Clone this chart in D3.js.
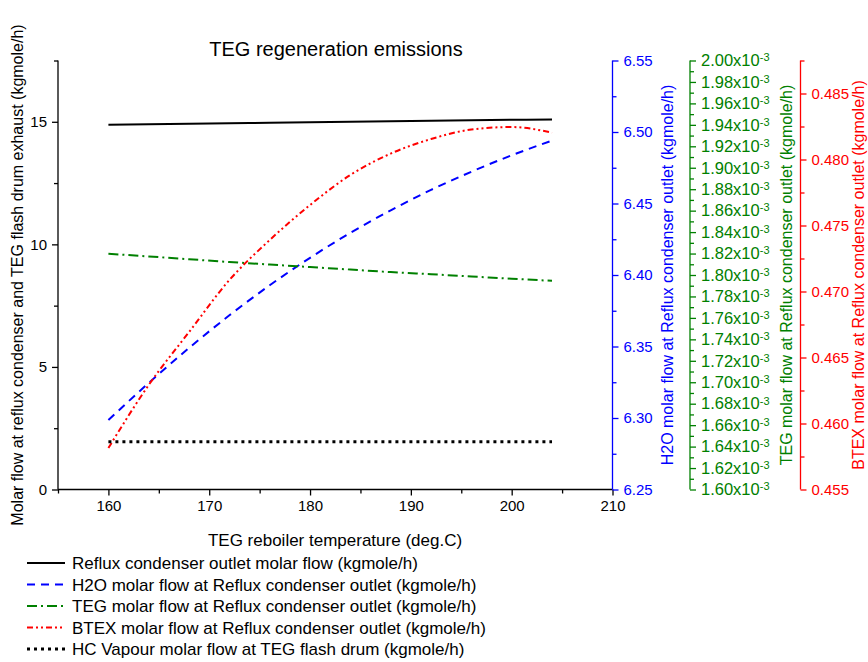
<!DOCTYPE html>
<html>
<head>
<meta charset="utf-8">
<script src="https://cdn.jsdelivr.net/npm/d3@7"></script>
<style>
  body { margin: 0; background: #fff; }
  svg { font-family: "Liberation Sans", Arial, sans-serif; }
</style>
</head>
<body>
<svg id="chart" width="868" height="662"></svg>
<script>
// temperatures (deg.C)
const temps = [160, 164, 168, 172, 176, 180, 184, 188, 192, 196, 200, 204];
// left axis series (kgmole/h)
const refluxFlow = [14.88, 14.90, 14.92, 14.94, 14.96, 14.98, 15.00, 15.02, 15.04, 15.06, 15.08, 15.09];
const hcVapour = [1.95, 1.95, 1.95, 1.95, 1.95, 1.95, 1.95, 1.95, 1.95, 1.95, 1.95, 1.95];
// right axes series
const h2oFlow = [6.2986, 6.3245, 6.3490, 6.3718, 6.3928, 6.4120, 6.4295, 6.4452, 6.4595, 6.4722, 6.4837, 6.4940];
const tegFlow = [1.8198e-3, 1.8173e-3, 1.8147e-3, 1.8121e-3, 1.8097e-3, 1.8074e-3, 1.8051e-3, 1.8027e-3, 1.8007e-3, 1.7986e-3, 1.7965e-3, 1.7946e-3];
const btexFlow = [0.45814, 0.46292, 0.46693, 0.47087, 0.47390, 0.47655, 0.47883, 0.48045, 0.48155, 0.48227, 0.48246, 0.48203];

const legendLabels = [
  "Reflux condenser outlet molar flow (kgmole/h)",
  "H2O molar flow at Reflux condenser outlet (kgmole/h)",
  "TEG molar flow at Reflux condenser outlet (kgmole/h)",
  "BTEX molar flow at Reflux condenser outlet (kgmole/h)",
  "HC Vapour molar flow at TEG flash drum (kgmole/h)"
];

const svg = d3.select('#chart');
const plotTop = 60.5, plotBottom = 489.5, plotLeft = 58, plotRight = 612.5;
const fs = 15;

const x = d3.scaleLinear().domain([155, 210]).range([plotLeft, plotRight]);
const yLeft = d3.scaleLinear().domain([0, 17.5]).range([plotBottom, plotTop]);
const yBlue = d3.scaleLinear().domain([6.25, 6.55]).range([plotBottom, plotTop]);
const yGreen = d3.scaleLinear().domain([1.6e-3, 2.0e-3]).range([plotBottom, plotTop]);
const yRed = d3.scaleLinear().domain([0.455, 0.4875]).range([plotBottom, plotTop]);

// draws one axis: minor ticks first, then majors with labels
function drawAxis(axisFn, scale, pos, majors, minors, color, fmt, size) {
  const g = svg.append('g').attr('transform', pos);
  g.append('g').call(axisFn(scale).tickValues(minors).tickSize(4).tickFormat(''));
  const major = g.append('g').call(axisFn(scale).tickValues(majors).tickSize(6).tickPadding(5).tickFormat(fmt));
  g.selectAll('line').attr('stroke', color).attr('stroke-width', 1.3);
  g.selectAll('path.domain').remove();
  major.selectAll('text').attr('fill', color).attr('font-size', size || fs).attr('font-family', '"Liberation Sans", Arial, sans-serif');
  return {g, major};
}

function axisLine(x1, y1, x2, y2, color) {
  svg.append('line').attr('x1', x1).attr('y1', y1).attr('x2', x2).attr('y2', y2)
    .attr('stroke', color).attr('stroke-width', 1.3);
}

// x axis
drawAxis(d3.axisBottom, x, `translate(0,${plotBottom})`, d3.range(160, 211, 10), d3.range(155, 210, 10), '#000', d3.format('d'));
axisLine(plotLeft, plotBottom, plotRight, plotBottom, '#000');
// left axis
drawAxis(d3.axisLeft, yLeft, `translate(${plotLeft},0)`, [0, 5, 10, 15], [2.5, 7.5, 12.5, 17.5], '#000', d3.format('d'));
axisLine(plotLeft, plotTop, plotLeft, plotBottom, '#000');
// blue axis
drawAxis(d3.axisRight, yBlue, `translate(${plotRight},0)`, d3.range(0, 7).map(i => 6.25 + i * 0.05),
  d3.range(0, 6).map(i => 6.275 + i * 0.05), 'blue', d3.format('.2f'));
axisLine(plotRight, plotTop, plotRight, plotBottom, 'blue');
// green axis
const greenX = 690;
const gAx = drawAxis(d3.axisRight, yGreen, `translate(${greenX},0)`, d3.range(0, 21).map(i => 1.6e-3 + i * 0.02e-3),
  d3.range(0, 20).map(i => 1.61e-3 + i * 0.02e-3), 'green', d => (d * 1000).toFixed(2) + 'x10', 16.5);
gAx.major.selectAll('text').append('tspan').attr('dy', '-0.45em').attr('font-size', 11).text('-3');
axisLine(greenX, plotTop, greenX, plotBottom, 'green');
// red axis
const redX = 800.5;
drawAxis(d3.axisRight, yRed, `translate(${redX},0)`, d3.range(0, 7).map(i => 0.455 + i * 0.005),
  d3.range(0, 7).map(i => 0.4575 + i * 0.005), 'red', d3.format('.3f'));
axisLine(redX, plotTop, redX, plotBottom, 'red');

// series
const series = [
  {vals: refluxFlow, y: yLeft, color: '#000', dash: null, w: 2},
  {vals: h2oFlow, y: yBlue, color: 'blue', dash: '8,6', w: 2},
  {vals: tegFlow, y: yGreen, color: 'green', dash: '10,4,2,4', w: 2},
  {vals: btexFlow, y: yRed, color: 'red', dash: '6,3,2,3,2,3', w: 2},
  {vals: hcVapour, y: yLeft, color: '#000', dash: '3,4', w: 3}
];

series.forEach(s => {
  const line = d3.line().x((d, i) => x(temps[i])).y(d => s.y(d)).curve(d3.curveMonotoneX);
  svg.append('path')
    .attr('d', line(s.vals))
    .attr('fill', 'none')
    .attr('stroke', s.color)
    .attr('stroke-width', s.w)
    .attr('stroke-dasharray', s.dash);
});

// title
svg.append('text').attr('x', 336).attr('y', 56).attr('text-anchor', 'middle')
  .attr('font-size', 20).text('TEG regeneration emissions');

// axis titles
svg.append('text').attr('x', 335).attr('y', 546).attr('text-anchor', 'middle')
  .attr('font-size', 17).text('TEG reboiler temperature (deg.C)');

const axisTitles = [
  {x: 23, text: 'Molar flow at reflux condenser and TEG flash drum exhaust (kgmole/h)', color: '#000'},
  {x: 673, text: 'H2O molar flow at Reflux condenser outlet (kgmole/h)', color: 'blue'},
  {x: 792, text: 'TEG molar flow at Reflux condenser outlet (kgmole/h)', color: 'green'},
  {x: 864, text: 'BTEX molar flow at Reflux condenser outlet (kgmole/h)', color: 'red'}
];
axisTitles.forEach(t => {
  svg.append('text')
    .attr('transform', `translate(${t.x},${(plotTop + plotBottom) / 2}) rotate(-90)`)
    .attr('text-anchor', 'middle')
    .attr('font-size', 16)
    .attr('fill', t.color)
    .text(t.text);
});

// legend
const legend = svg.append('g').attr('transform', 'translate(27,563)');
series.forEach((s, i) => {
  const row = legend.append('g').attr('transform', `translate(0,${i * 21.5})`);
  row.append('line').attr('x1', 0).attr('x2', 38).attr('y1', 0).attr('y2', 0)
    .attr('stroke', s.color).attr('stroke-width', s.w).attr('stroke-dasharray', s.dash);
  row.append('text').attr('x', 45).attr('y', 6).attr('font-size', 17).text(legendLabels[i]);
});
</script>
</body>
</html>
